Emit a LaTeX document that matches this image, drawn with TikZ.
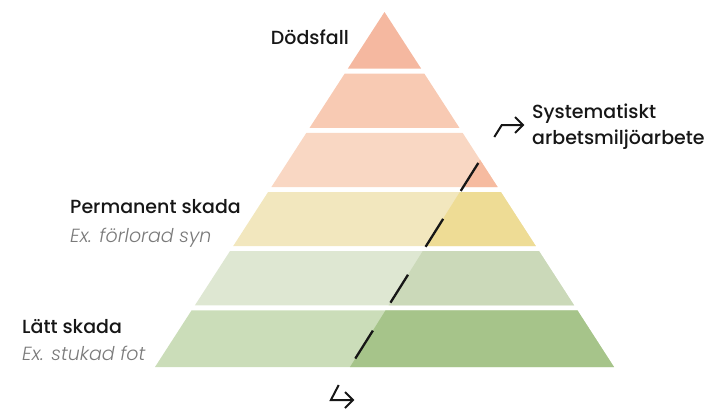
\documentclass[tikz,border=0pt]{standalone}
\usepackage{fontspec}
\setmainfont{Poppins}[BoldFont={Poppins Medium},ItalicFont={Poppins Light Italic}]
\usetikzlibrary{calc}
\definecolor{tA}{HTML}{F5B8A0}
\definecolor{tB}{HTML}{F8CAB3}
\definecolor{tCl}{HTML}{F9D7C3}
\definecolor{tCd}{HTML}{F6BBA0}
\definecolor{tDl}{HTML}{F2E7BE}
\definecolor{tDd}{HTML}{EEDC95}
\definecolor{tEl}{HTML}{DEE7D2}
\definecolor{tEd}{HTML}{CBD9B9}
\definecolor{tFl}{HTML}{CBDDB9}
\definecolor{tFd}{HTML}{A6C48A}
\definecolor{ink}{HTML}{161616}
\definecolor{subgray}{HTML}{7A7A7A}
\tikzset{
  lbl/.style={font=\fontsize{19}{23}\selectfont\bfseries, text=ink, inner sep=0pt},
  sublbl/.style={font=\fontsize{19}{23}\selectfont\itshape, text=subgray, inner sep=0pt},
  splitline/.style={draw=ink, line width=2.3pt, dash pattern=on 33pt off 33pt, line cap=butt},
  arrline/.style={draw=ink, line width=2pt, line join=miter, line cap=butt},
}
\newcommand{\rightpart}{(580.3,0) -- (706,0) -- (706,410) -- (323,410) -- cycle}
\begin{document}
\begin{tikzpicture}[x=1pt,y=-1pt]
\useasboundingbox (0,0) rectangle (706,410);
% tier 1
\fill[tA] (384.5,12) -- (421.2,68.7) -- (347.8,68.7) -- cycle;
% tier 2
\fill[tB] (344.6,73.7) -- (424.4,73.7) -- (459.4,127.8) -- (309.6,127.8) -- cycle;
% tier 3
\begin{scope}
\clip (306.4,132.8) -- (462.6,132.8) -- (497.6,187) -- (271.4,187) -- cycle;
\fill[tCl] (0,0) rectangle (706,410);
\fill[tCd] \rightpart;
\end{scope}
% tier 4
\begin{scope}
\clip (268.1,192) -- (500.9,192) -- (535.9,246.2) -- (233.1,246.2) -- cycle;
\fill[tDl] (0,0) rectangle (706,410);
\fill[tDd] \rightpart;
\end{scope}
% tier 5
\begin{scope}
\clip (229.9,251.2) -- (539.1,251.2) -- (574.1,305.3) -- (194.9,305.3) -- cycle;
\fill[tEl] (0,0) rectangle (706,410);
\fill[tEd] \rightpart;
\end{scope}
% tier 6
\begin{scope}
\clip (191.6,310.3) -- (577.4,310.3) -- (614,367) -- (155,367) -- cycle;
\fill[tFl] (0,0) rectangle (706,410);
\fill[tFd] \rightpart;
\end{scope}
% dashed line
\coordinate (d1) at (478.3,163);
\coordinate (d2) at (355,359);
\draw[splitline] (d1) -- (d2);
% top arrow
\coordinate (a1) at (494.3,137);
\coordinate (a2) at (501.8,125);
\coordinate (a3) at (523,125);
\draw[arrline] (a1) -- (a2) -- (a3);
\draw[arrline] ($(a3)+(-8,-8)$) -- (a3) -- ($(a3)+(-8,8)$);
% bottom arrow
\coordinate (b1) at (338.7,385);
\coordinate (b2) at (330.9,400);
\coordinate (b3) at (353,400);
\draw[arrline] (b1) -- (b2) -- (b3);
\draw[arrline] ($(b3)+(-8,-8)$) -- (b3) -- ($(b3)+(-8,8)$);
% labels
\node[lbl, anchor=base east] (dod) at (349,44) {Dödsfall};
\node[lbl, anchor=base west] (sys1) at (532,118) {Systematiskt};
\node[lbl, anchor=base west] (sys2) at (532,144) {arbetsmiljöarbete};
\node[lbl, anchor=base west] (perm) at (70,213) {Permanent skada};
\node[sublbl, anchor=base west] (permex) at (70,242) {Ex. förlorad syn};
\node[lbl, anchor=base west] (latt) at (22,333) {Lätt skada};
\node[sublbl, anchor=base west] (lattex) at (22,360) {Ex. stukad fot};
\end{tikzpicture}
\end{document}
